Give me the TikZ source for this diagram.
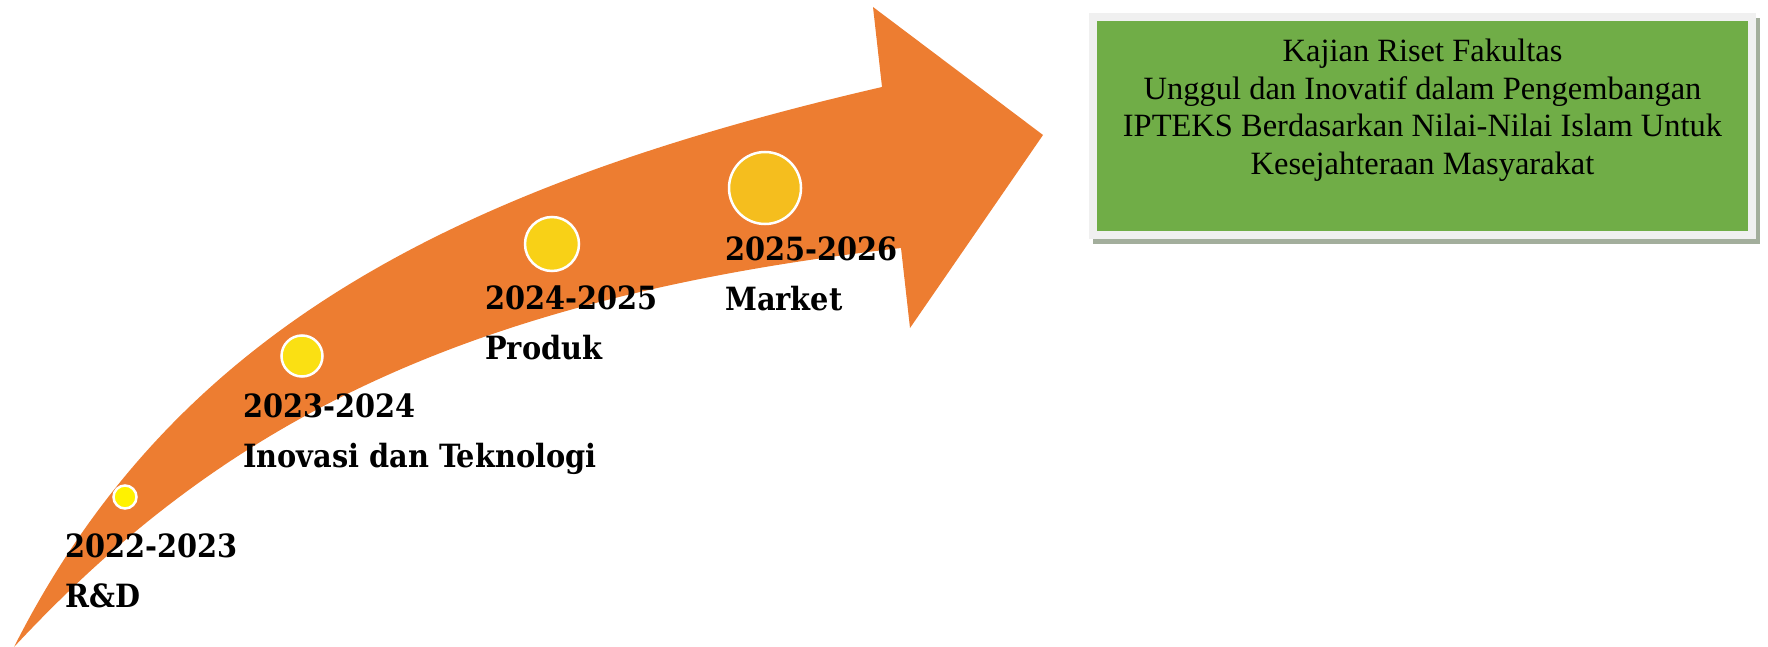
\documentclass[tikz,border=0pt]{standalone}
\usepackage{fontspec}
\setmainfont{Liberation Serif}
\newfontfamily\lblfont{DejaVu Serif Condensed}
\definecolor{arroworange}{HTML}{ED7D31}
\definecolor{boxgreen}{HTML}{70AD47}
\definecolor{frameg}{HTML}{F0F0F0}
\definecolor{shadowg}{HTML}{A3AE9C}
\definecolor{dotA}{HTML}{FFF200}
\definecolor{dotB}{HTML}{FAE013}
\definecolor{dotC}{HTML}{F8D117}
\definecolor{dotD}{HTML}{F5BE1E}
\tikzset{
  lbl/.style={font=\lblfont\bfseries\fontsize{32}{40}\selectfont, inner sep=0pt, anchor=base west, text=black},
  dot/.style={circle, draw=white, line width=2.5pt, inner sep=0pt},
  boxtext/.style={font=\fontsize{32.5}{37.5}\selectfont, align=center, inner sep=0pt, anchor=north, text=black}
}
\begin{document}
\begin{tikzpicture}[x=1pt,y=-1pt]
\useasboundingbox (0,0) rectangle (1768,647);
% arrow
\fill[arroworange] (14,647) .. controls (171.5,335.5) and (445,188) .. (882,87)
  -- (873,7) -- (1043,135) -- (910,328) -- (901,248)
  .. controls (455.5,298.9) and (218,428) .. (14,647) -- cycle;
% dots
\node[dot, fill=dotA, minimum size=23pt] (d1) at (125,497) {};
\node[dot, fill=dotB, minimum size=41pt] (d2) at (302,356) {};
\node[dot, fill=dotC, minimum size=54pt] (d3) at (552,244) {};
\node[dot, fill=dotD, minimum size=72pt] (d4) at (765,188) {};
% labels
\node[lbl] (y1) at (65,557) {2022-2023};
\node[lbl] (n1) at (65,607) {R\&D};
\node[lbl] (y2) at (243,417) {2023-2024};
\node[lbl] (n2) at (243,467) {Inovasi dan Teknologi};
\node[lbl] (y3) at (485,309) {2024-2025};
\node[lbl] (n3) at (485,359) {Produk};
\node[lbl] (y4) at (725,260) {2025-2026};
\node[lbl] (n4) at (725,310) {Market};
% green box
\fill[shadowg] (1093,18) rectangle (1760,244);
\fill[frameg] (1089,13) rectangle (1756,239);
\fill[boxgreen] (1097,21) rectangle (1748,231);
\node[boxtext] (goal) at (1422.5,38.8) {Kajian Riset Fakultas\\Unggul dan Inovatif dalam Pengembangan\\IPTEKS Berdasarkan Nilai-Nilai Islam Untuk\\Kesejahteraan Masyarakat};
\end{tikzpicture}
\end{document}
